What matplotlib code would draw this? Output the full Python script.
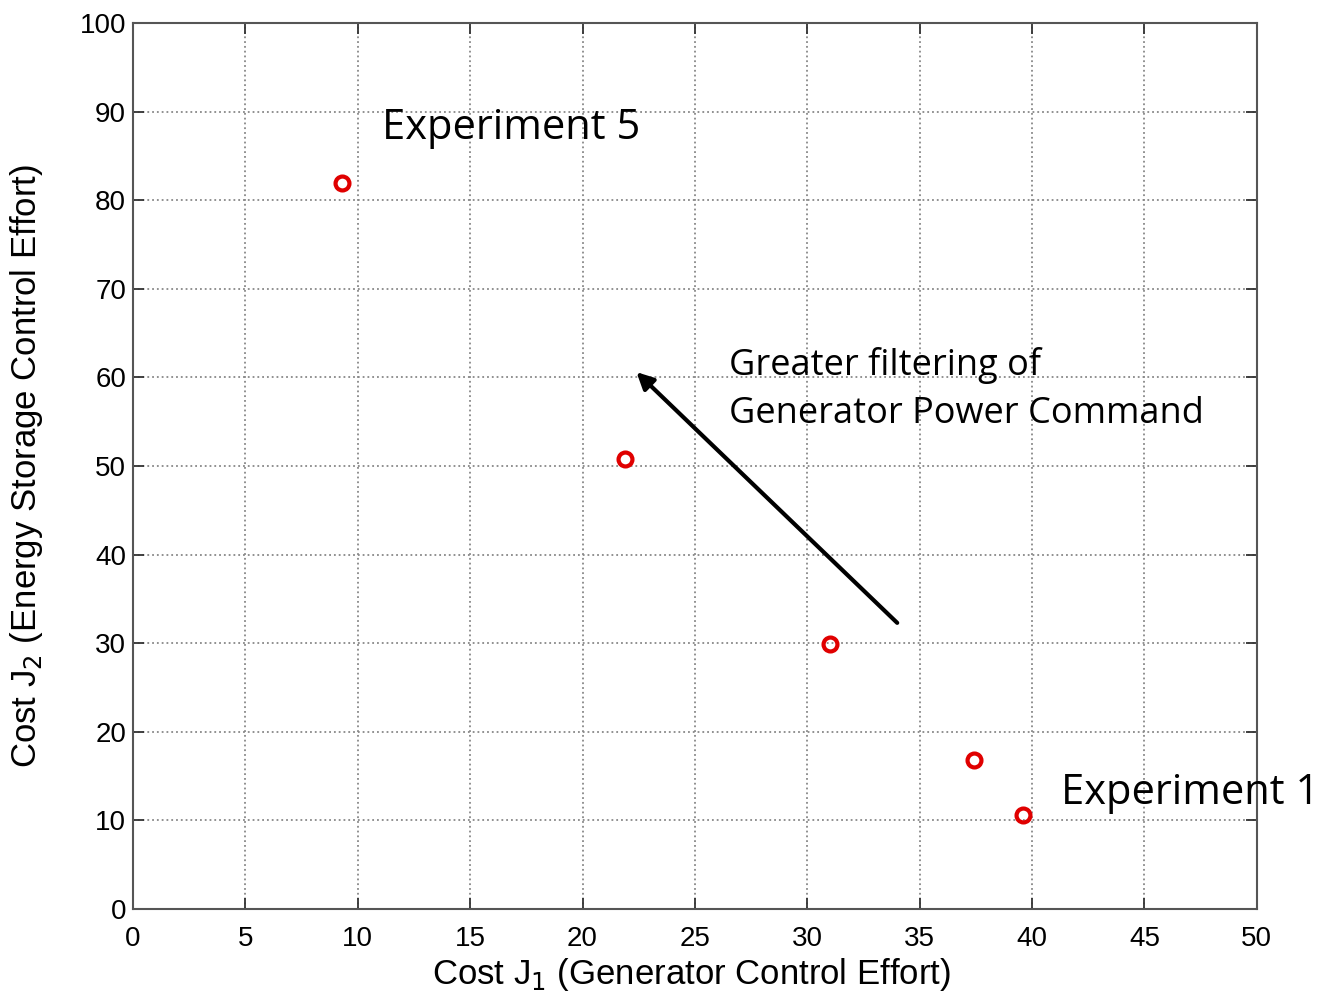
import matplotlib
matplotlib.use('Agg')
import matplotlib.pyplot as plt

# costes de cada experimento
j1 = [9.3, 21.9, 31.0, 37.4, 39.6]
j2 = [81.9, 50.8, 29.9, 16.8, 10.6]

flecha_inicio = (34.0, 32.3)
flecha_fin = (22.4, 60.6)

plt.rcParams['font.family'] = ['Liberation Sans', 'DejaVu Sans']

fig = plt.figure(figsize=(13.23, 9.96), dpi=100)
ax = fig.add_axes([0.1005, 0.0873, 0.8495, 0.8896])

ax.plot(j1, j2, 'o', markerfacecolor='none', markeredgecolor='#e00000',
        markersize=10, markeredgewidth=3, linestyle='none')

ax.set_xlim(0, 50)
ax.set_ylim(0, 100)
ax.set_xticks(range(0, 51, 5))
ax.set_yticks(range(0, 101, 10))
ax.grid(True, linestyle=':', color='#888888', linewidth=1.3)
ax.tick_params(direction='in', top=True, right=True, length=8, width=1.3,
               labelsize=20, colors='#333333', labelcolor='black', pad=5)
ax.tick_params(axis='x', pad=12)
for s in ax.spines.values():
    s.set_color('#555555')
    s.set_linewidth(1.5)

ax.set_xlabel('Cost J$_1$ (Generator Control Effort)', fontsize=25)
ax.set_ylabel('Cost J$_2$ (Energy Storage Control Effort)', fontsize=25)
ax.xaxis.set_label_coords(0.497, -0.053)
ax.yaxis.set_label_coords(-0.078, 0.5)

ax.annotate('', xy=flecha_fin, xytext=flecha_inicio,
            arrowprops=dict(arrowstyle='-|>', color='black', lw=3,
                            mutation_scale=25, shrinkA=0, shrinkB=0))

fuente = ['Open Sans', 'DejaVu Sans']
ax.text(11.1, 88.1, 'Experiment 5', fontsize=30, family=fuente, va='center')
ax.text(41.3, 13.1, 'Experiment 1', fontsize=30, family=fuente, va='center',
        clip_on=False)
ax.text(26.5, 58.6, 'Greater filtering of\nGenerator Power Command',
        fontsize=26, family=fuente, va='center', linespacing=1.45)

fig.savefig('out.png', dpi=100)
